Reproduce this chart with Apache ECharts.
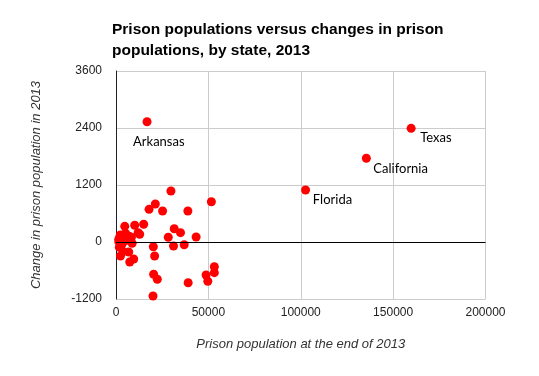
<!DOCTYPE html>
<html><head><meta charset="utf-8">
<script src="https://cdn.jsdelivr.net/npm/echarts@6/dist/echarts.min.js"></script>
<style>html,body{margin:0;padding:0;background:#fff}#c{width:539px;height:376px}</style>
</head><body><div id="c"></div>
<script>
// Prison population at end of 2013 (x) and change in 2013 (y)
const popX = [29740,21280,17890,25220,38900,51620,4740,10130,14980,11960,12820,31520,34910,28290,43370,2050,1510,4200,8350,8730,6030,20200,31140,36910,3880,6900,2420,20900,9590,7440,20370,22360,39060,48760,53230,53230,49680,20040,1500,2300,3100,3600,5200,6200,7100,1800];
const changeY = [1074,800,688,653,653,848,330,352,373,196,162,280,196,99,105,99,6,6,99,-27,112,-99,-84,-57,-204,-210,-295,-295,-358,-421,-680,-785,-857,-695,-520,-646,-827,-1137,60,150,-60,100,180,40,120,-110];
const labeledNames = ['Arkansas','Texas','California','Florida'];
const labeledX = [16800,159750,135500,102600];
const labeledY = [2532,2393,1762,1095];
const labelPos = [[-9.5,24.5],[13.5,14],[11.5,15.2],[11.8,14.5]];
const xTicks = [0,50000,100000,150000,200000];
const yTicks = [-1200,0,1200,2400,3600];

const pts = popX.map((x,i)=>[x,changeY[i]]);
const named = labeledNames.map((n,i)=>({name:n,value:[labeledX[i],labeledY[i]],
  label:{show:true,formatter:'{b}',position:labelPos[i],align:'left',verticalAlign:'middle',
    fontFamily:'Lato, "Open Sans", sans-serif',fontSize:13,color:'#000'}}));

const chart = echarts.init(document.getElementById('c'));
chart.setOption({
  animation:false,
  title:{text:'Prison populations versus changes in prison\npopulations, by state, 2013',
    left:107,top:14,textStyle:{fontFamily:'"Liberation Sans", Arial, sans-serif',fontSize:15.5,fontWeight:'bold',color:'#000',lineHeight:21}},
  grid:{left:116,right:53.5,top:71,bottom:77},
  xAxis:{type:'value',min:xTicks[0],max:xTicks[xTicks.length-1],interval:50000,
    name:'Prison population at the end of 2013',nameLocation:'middle',nameGap:39,
    nameTextStyle:{fontFamily:'"Liberation Sans", Arial, sans-serif',fontSize:13,fontStyle:'italic',color:'#333'},
    axisLine:{show:false},axisTick:{show:false},
    axisLabel:{margin:8,formatter:v=>String(v),fontFamily:'"Liberation Sans", Arial, sans-serif',fontSize:12,color:'#222'},
    splitLine:{show:true,lineStyle:{color:'#ccc',width:1}}},
  yAxis:{type:'value',min:yTicks[0],max:yTicks[yTicks.length-1],interval:1200,
    name:'Change in prison population in 2013',nameLocation:'middle',nameGap:73,
    nameTextStyle:{fontFamily:'"Liberation Sans", Arial, sans-serif',fontSize:13,fontStyle:'italic',color:'#333'},
    axisLine:{show:true,onZero:false,lineStyle:{color:'#222',width:1}},axisTick:{show:false},
    axisLabel:{margin:14,formatter:v=>String(v),fontFamily:'"Liberation Sans", Arial, sans-serif',fontSize:12,color:'#222'},
    splitLine:{show:true,lineStyle:{color:'#ccc',width:1}}},
  series:[
    {type:'scatter',data:pts,symbolSize:9,itemStyle:{color:'#ff0000',opacity:1},
     markLine:{silent:true,symbol:'none',label:{show:false},lineStyle:{color:'#000',width:1,type:'solid'},data:[{yAxis:0}]}},
    {type:'scatter',data:named,symbolSize:9,itemStyle:{color:'#ff0000',opacity:1}}
  ]
});
</script></body></html>
